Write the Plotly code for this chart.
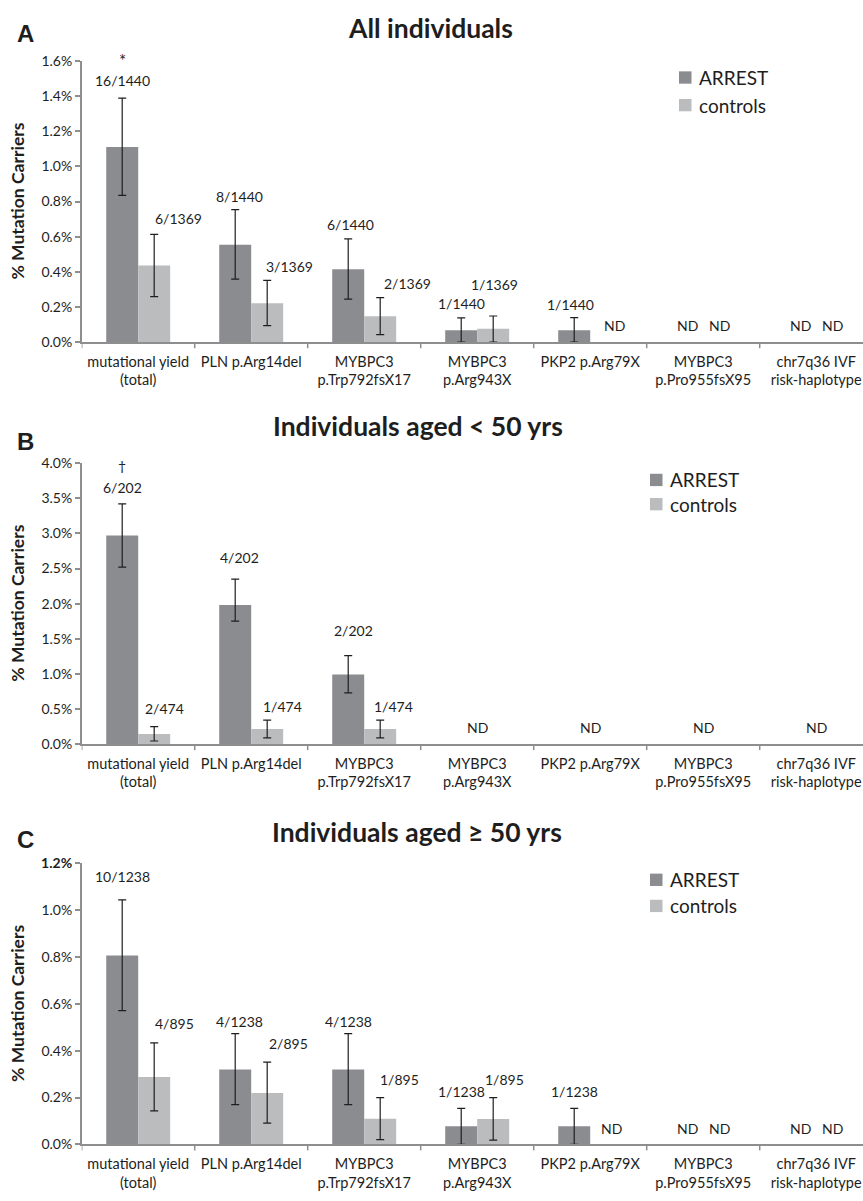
import plotly.graph_objects as go

# ---------------- data ----------------
categories = ["mutational yield<br>(total)", "PLN p.Arg14del", "MYBPC3<br>p.Trp792fsX17",
              "MYBPC3<br>p.Arg943X", "PKP2 p.Arg79X", "MYBPC3<br>p.Pro955fsX95",
              "chr7q36 IVF<br>risk-haplotype"]
series_names = ["ARREST", "controls"]

# Panel A - All individuals (% mutation carriers)
a_arrest = [1.11, 0.555, 0.415, 0.068, 0.068, None, None]
a_arrest_up = [0.278, 0.199, 0.173, 0.070, 0.072, None, None]
a_arrest_dn = [0.275, 0.196, 0.170, 0.068, 0.068, None, None]
a_controls = [0.437, 0.221, 0.148, 0.076, None, None, None]
a_controls_up = [0.176, 0.131, 0.106, 0.073, None, None, None]
a_controls_dn = [0.178, 0.127, 0.105, 0.076, None, None, None]
a_arrest_lbl = ["16/1440", "8/1440", "6/1440", "1/1440", "1/1440", "ND", "ND"]
a_controls_lbl = ["6/1369", "3/1369", "2/1369", "1/1369", "ND", "ND", "ND"]

# Panel B - Individuals aged < 50 yrs
b_arrest = [2.97, 1.98, 0.99, None, None, None, None]
b_arrest_up = [0.45, 0.37, 0.27, None, None, None, None]
b_arrest_dn = [0.45, 0.23, 0.26, None, None, None, None]
b_controls = [0.145, 0.215, 0.215, None, None, None, None]
b_controls_up = [0.105, 0.127, 0.127, None, None, None, None]
b_controls_dn = [0.100, 0.126, 0.126, None, None, None, None]
b_arrest_lbl = ["6/202", "4/202", "2/202", None, None, None, None]
b_controls_lbl = ["2/474", "1/474", "1/474", None, None, None, None]
b_category_lbl = [None, None, None, "ND", "ND", "ND", "ND"]

# Panel C - Individuals aged >= 50 yrs
c_arrest = [0.807, 0.320, 0.320, 0.077, 0.077, None, None]
c_arrest_up = [0.237, 0.153, 0.153, 0.077, 0.077, None, None]
c_arrest_dn = [0.236, 0.150, 0.150, 0.077, 0.077, None, None]
c_controls = [0.288, 0.220, 0.109, 0.108, None, None, None]
c_controls_up = [0.146, 0.131, 0.091, 0.092, None, None, None]
c_controls_dn = [0.145, 0.129, 0.089, 0.090, None, None, None]
c_arrest_lbl = ["10/1238", "4/1238", "4/1238", "1/1238", "1/1238", "ND", "ND"]
c_controls_lbl = ["4/895", "2/895", "1/895", "1/895", "ND", "ND", "ND"]

panel_titles = ["All individuals", "Individuals aged < 50 yrs", "Individuals aged \u2265 50 yrs"]
panel_letters = ["A", "B", "C"]
significance = ["*", "\u2020", None]
y_max = [1.6, 4.0, 1.2]
y_step = [0.2, 0.5, 0.2]

# ---------------- style ----------------
W, H = 863, 1201
DARK = "#8b8c90"
LIGHT = "#bbbcbe"
AXIS = "#8e8e8e"
TXT = "#1e1e1e"
FONT = "Lato"

def px(x):
    return x / W

def py(y):
    return 1 - y / H

# plot area geometry per panel in pixels (top, bottom)
plot_rows = [(52.7, 338.0), (460.7, 745.7), (866.7, 1151.7)]
x_left = 81.7
x_right = W
cat_w = 113.0
bar_half = 16
title_pos = [(430, 19), (418, 423), (417, 835)]
letter_pos = [(25, 25), (25, 439), (25, 842)]
# legend: (square left x, first row centre y, row spacing)
legend_geo = [(679, 69.5, 28), (650, 477.7, 24.6), (650, 883.3, 26.5)]
legend_sq = 12.5

# label offsets (dx, dy) in px relative to bar centre / error-bar top
a_arrest_off = [(0, 18), (4, 13), (2, 14), (0, 14), (-4, 13), (0, 17), (0, 17)]
a_controls_off = [(24, 16), (22, 14), (27, 14), (1, 32), (8, 17), (0, 17), (0, 17)]
b_arrest_off = [(0, 16), (4, 22), (5, 25)]
b_controls_off = [(10, 18), (15, 14), (13, 14)]
c_arrest_off = [(0, 23), (4, 12), (0, 12), (0, 17), (0, 17), (0, 16), (0, 16)]
c_controls_off = [(20, 19), (21, 19), (19, 18), (11, 18), (5, 16), (0, 16), (0, 16)]
sig_dy = [38, 38, 0]
sig_size = [17, 14, 14]

panels = [
    (a_arrest, a_arrest_up, a_arrest_dn, a_controls, a_controls_up, a_controls_dn,
     a_arrest_lbl, a_controls_lbl, None, a_arrest_off, a_controls_off),
    (b_arrest, b_arrest_up, b_arrest_dn, b_controls, b_controls_up, b_controls_dn,
     b_arrest_lbl, b_controls_lbl, b_category_lbl, b_arrest_off, b_controls_off),
    (c_arrest, c_arrest_up, c_arrest_dn, c_controls, c_controls_up, c_controls_dn,
     c_arrest_lbl, c_controls_lbl, None, c_arrest_off, c_controls_off),
]

fig = go.Figure()
annotations = []
shapes = []
x_idx = list(range(len(categories)))
x_range = [-0.5, -0.5 + (x_right - x_left) / cat_w]

for p, (ar, aru, ard, co, cou, cod, arl, col, catl, aro, coo) in enumerate(panels):
    sfx = "" if p == 0 else str(p + 1)
    xa, ya = "x" + sfx, "y" + sfx
    for name, vals, up, dn, color in [(series_names[0], ar, aru, ard, DARK),
                                      (series_names[1], co, cou, cod, LIGHT)]:
        fig.add_trace(go.Bar(
            x=x_idx, y=vals, name=name, xaxis=xa, yaxis=ya, showlegend=False,
            marker=dict(color=color, line=dict(width=0)),
            error_y=dict(type="data", symmetric=False,
                         array=[u if u is not None else 0 for u in up],
                         arrayminus=[d if d is not None else 0 for d in dn],
                         visible=True, color=TXT, thickness=1.2, width=4),
            hoverinfo="skip",
        ))
    # value labels
    for series_i, (vals, up, lbls, offs) in enumerate([(ar, aru, arl, aro), (co, cou, col, coo)]):
        sign = -1 if series_i == 0 else 1
        for i, lab in enumerate(lbls):
            if lab is None:
                continue
            dx, dy = offs[i]
            top = 0 if vals[i] is None else vals[i] + up[i]
            annotations.append(dict(
                x=i, y=top, xref=xa, yref=ya, text=lab, showarrow=False,
                xshift=sign * bar_half + dx, yshift=dy, yanchor="middle",
                font=dict(family=FONT, size=14, color=TXT)))
    if catl is not None:
        for i, lab in enumerate(catl):
            if lab is None:
                continue
            annotations.append(dict(
                x=i, y=0, xref=xa, yref=ya, text=lab, showarrow=False,
                yshift=17, yanchor="middle",
                font=dict(family=FONT, size=14, color=TXT)))
    if significance[p]:
        annotations.append(dict(
            x=0, y=ar[0] + aru[0], xref=xa, yref=ya, text=significance[p], showarrow=False,
            xshift=-bar_half, yshift=sig_dy[p], yanchor="middle",
            font=dict(family=FONT, size=sig_size[p], color=TXT)))
    # titles and panel letters
    tx, ty = title_pos[p]
    annotations.append(dict(x=px(tx), y=py(ty), xref="paper", yref="paper",
                            text="<b>" + panel_titles[p] + "</b>", showarrow=False,
                            xanchor="center", yanchor="middle",
                            font=dict(family=FONT, size=26.5, color=TXT)))
    lx, ly = letter_pos[p]
    annotations.append(dict(x=px(lx), y=py(ly), xref="paper", yref="paper",
                            text="<b>" + panel_letters[p] + "</b>", showarrow=False,
                            xanchor="center", yanchor="middle",
                            font=dict(family="Liberation Sans", size=24, color=TXT)))
    top_px, bot_px = plot_rows[p]
    annotations.append(dict(x=px(18), y=py((top_px + bot_px) / 2), xref="paper", yref="paper",
                            text="<b>% Mutation Carriers</b>", showarrow=False, textangle=-90,
                            xanchor="center", yanchor="middle",
                            font=dict(family=FONT, size=17.5, color=TXT)))
    # legend (manual, per panel)
    gx, gy, gs = legend_geo[p]
    for k, (name, color) in enumerate([(series_names[0], DARK), (series_names[1], LIGHT)]):
        cy = gy + k * gs
        shapes.append(dict(type="rect", xref="paper", yref="paper",
                           x0=px(gx), x1=px(gx + legend_sq),
                           y0=py(cy + legend_sq / 2), y1=py(cy - legend_sq / 2),
                           fillcolor=color, line=dict(width=0)))
        annotations.append(dict(x=px(gx + legend_sq + 5), y=py(cy), xref="paper", yref="paper",
                                text=name, showarrow=False, xanchor="left", yanchor="middle",
                                font=dict(family=FONT, size=19, color=TXT)))

    n_ticks = int(round(y_max[p] / y_step[p])) + 1
    tvals = [k * y_step[p] for k in range(n_ticks)]
    ttext = ["%.1f%%" % v for v in tvals]
    if p == 2:
        ttext[-1] = "<b>" + ttext[-1] + "</b>"
    fig.update_layout(**{
        "xaxis" + sfx: dict(
            domain=[px(x_left), px(x_right)], range=x_range, anchor=ya,
            tickmode="array", tickvals=x_idx, ticktext=categories,
            ticklabeloverflow="allow",
            showline=True, linecolor=AXIS, linewidth=2, mirror=False,
            ticks="outside", ticklen=5, tickcolor="rgba(0,0,0,0)",
            showgrid=False, zeroline=False,
            tickfont=dict(family=FONT, size=14.5, color=TXT)),
        "yaxis" + sfx: dict(
            domain=[py(bot_px), py(top_px)], range=[0, y_max[p]], anchor=xa,
            tickmode="array", tickvals=tvals, ticktext=ttext,
            showline=True, linecolor=AXIS, linewidth=1.5,
            ticks="outside", ticklen=5, tickcolor=AXIS, tickwidth=1.5,
            showgrid=False, zeroline=False,
            tickfont=dict(family=FONT, size=14, color=TXT)),
    })
    # category boundary tick marks
    for b in range(len(categories) + 1):
        shapes.append(dict(type="line", xref=xa, yref=ya + " domain",
                           x0=b - 0.5, x1=b - 0.5, y0=-6, y1=0, ysizemode="pixel",
                           yanchor=0, line=dict(color=AXIS, width=1.5)))

fig.update_layout(
    width=W, height=H, margin=dict(l=0, r=0, t=0, b=0),
    paper_bgcolor="white", plot_bgcolor="white",
    barmode="group", bargap=0.434, bargroupgap=0,
    annotations=annotations, shapes=shapes, showlegend=False,
    font=dict(family=FONT, color=TXT),
)

page_fit = (
    "document.documentElement.style.margin='0';"
    "document.body.style.margin='0';document.body.style.padding='0';"
    "document.documentElement.style.overflow='hidden';document.body.style.overflow='hidden';"
    "var gd=document.getElementById('{plot_id}');"
    "if(gd){gd.style.overflow='hidden';"
    "gd.querySelectorAll('svg').forEach(function(s){s.style.overflow='hidden';});}"
)
fig.write_html("out.html", config={"displayModeBar": False}, post_script=page_fit)
